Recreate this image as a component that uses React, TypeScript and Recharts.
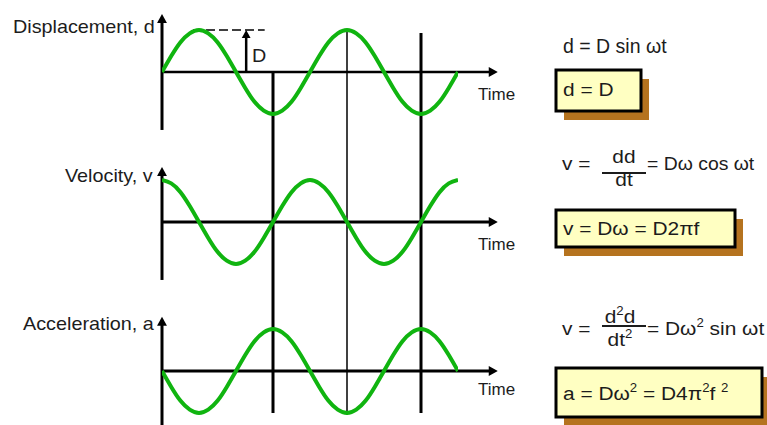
import { LineChart, Line, XAxis, YAxis, ReferenceLine } from 'recharts'

// Time in steps of 1/16 of a period, two full periods
const time = [0, 1, 2, 3, 4, 5, 6, 7, 8, 9, 10, 11, 12, 13, 14, 15, 16,
    17, 18, 19, 20, 21, 22, 23, 24, 25, 26, 27, 28, 29, 30, 31, 32]

// Amplitudes (peak = 1)
const displacement = [0, 0.38, 0.71, 0.92, 1, 0.92, 0.71, 0.38, 0, -0.38, -0.71, -0.92, -1, -0.92, -0.71, -0.38,
    0, 0.38, 0.71, 0.92, 1, 0.92, 0.71, 0.38, 0, -0.38, -0.71, -0.92, -1, -0.92, -0.71, -0.38, 0]
const velocity = [1, 0.92, 0.71, 0.38, 0, -0.38, -0.71, -0.92, -1, -0.92, -0.71, -0.38, 0, 0.38, 0.71, 0.92,
    1, 0.92, 0.71, 0.38, 0, -0.38, -0.71, -0.92, -1, -0.92, -0.71, -0.38, 0, 0.38, 0.71, 0.92, 1]
const acceleration = [0, -0.38, -0.71, -0.92, -1, -0.92, -0.71, -0.38, 0, 0.38, 0.71, 0.92, 1, 0.92, 0.71, 0.38,
    0, -0.38, -0.71, -0.92, -1, -0.92, -0.71, -0.38, 0, 0.38, 0.71, 0.92, 1, 0.92, 0.71, 0.38, 0]

// Marker times: thick, thin, thick
const markers = [12, 20, 28]

const data = time.map((t, i) => ({ t, d: displacement[i], v: velocity[i], a: acceleration[i] }))

const W = 767
const H = 425
const UNIT = 42 // px per unit of amplitude
const ZERO = { d: 72, v: 222, a: 371 } // zero line of each panel
const GREEN = '#10b410'
const INK = '#1c1c1c'
const FONT = '"Liberation Sans", Arial, sans-serif'
const AXIS_END = 36.3

const yDomain = (zero: number) => [(zero - H) / UNIT, zero / UNIT]
// value of a panel expressed on the acceleration axis (for lines crossing panels)
const onA = (panel: 'd' | 'v' | 'a', value: number) => (ZERO.a - ZERO[panel]) / UNIT + value

const panels = [
    { id: 'd', top: 1.38, bottom: -1.38, xw: 2.5 },
    { id: 'v', top: 1.31, bottom: -1.38, xw: 3 },
    { id: 'a', top: 1.29, bottom: -1.6, xw: 3 },
] as const

function ArrowLine(props: any) {
    const { x1, y1, x2, y2, stroke = '#000', strokeWidth = 2, head = 9 } = props
    const ang = Math.atan2(y2 - y1, x2 - x1)
    const c = Math.cos(ang)
    const s = Math.sin(ang)
    const bx = x2 - head * c
    const by = y2 - head * s
    const hw = head * 0.55
    return (
        <g>
            <line x1={x1} y1={y1} x2={bx + c} y2={by + s} stroke={stroke} strokeWidth={strokeWidth} />
            <polygon
                points={`${x2},${y2} ${bx - hw * s},${by + hw * c} ${bx + hw * s},${by - hw * c}`}
                fill={stroke}
            />
        </g>
    )
}

// text stretched a little horizontally, like the source drawing
function T({ x, y, size = 19, anchor = 'start', sx = 1.1, children }: any) {
    return (
        <text
            transform={`translate(${x} ${y}) scale(${sx} 1)`}
            fontSize={size}
            textAnchor={anchor}
            fill={INK}
            fontFamily={FONT}
            style={{ whiteSpace: 'pre' }}
        >
            {children}
        </text>
    )
}

const SUP = 12
const RISE = 8

function FormulaBox({ x, y, w, h }: any) {
    return (
        <g>
            <rect x={x + 8} y={y + 9} width={w} height={h} fill="#b5731f" />
            <rect x={x} y={y} width={w} height={h} fill="#ffffc2" stroke="#000" strokeWidth={3} />
        </g>
    )
}

function Annotations() {
    return (
        <svg width={W} height={H} style={{ position: 'absolute', left: 0, top: 0, pointerEvents: 'none' }}>
            {/* axis titles */}
            <T x={13} y={33} size={18}>Displacement, d</T>
            <T x={65} y={182} size={18}>Velocity, v</T>
            <T x={23} y={330} size={18}>Acceleration, a</T>
            <T x={252} y={62} size={18}>D</T>
            <T x={478} y={100} size={17} sx={1}>Time</T>
            <T x={478} y={250} size={17} sx={1}>Time</T>
            <T x={478} y={395} size={17} sx={1}>Time</T>

            {/* displacement */}
            <T x={563} y={53} size={19.5} sx={1}>d = D sin ωt</T>
            <FormulaBox x={556} y={70} w={85} h={41} />
            <T x={563} y={96}>d = D</T>

            {/* velocity */}
            <T x={562} y={170}>v =</T>
            <T x={624} y={163} anchor="middle">dd</T>
            <line x1={602} x2={646} y1={173} y2={173} stroke={INK} strokeWidth={2} />
            <T x={624} y={186} anchor="middle">dt</T>
            <T x={647} y={170} size={19} sx={1.02}>= Dω cos ωt</T>
            <FormulaBox x={556} y={210} w={179} h={37} />
            <T x={563} y={235}>v = Dω = D2πf</T>

            {/* acceleration */}
            <T x={562} y={335}>v =</T>
            <T x={620} y={323} anchor="middle">
                d<tspan fontSize={SUP} dy={-RISE}>2</tspan><tspan dy={RISE}>d</tspan>
            </T>
            <line x1={602} x2={646} y1={326} y2={326} stroke={INK} strokeWidth={2} />
            <T x={620} y={346} anchor="middle">
                dt<tspan fontSize={SUP} dy={-RISE}>2</tspan>
            </T>
            <T x={647} y={335}>
                = Dω<tspan fontSize={SUP} dy={-RISE}>2</tspan><tspan dy={RISE}> sin ωt</tspan>
            </T>
            <FormulaBox x={556} y={368} w={206} h={49} />
            <T x={563} y={400}>
                a = Dω<tspan fontSize={SUP} dy={-RISE}>2</tspan>
                <tspan dy={RISE}> = D4π</tspan>
                <tspan fontSize={SUP} dy={-RISE}>2</tspan>
                <tspan dy={RISE}>f </tspan>
                <tspan fontSize={SUP} dy={-RISE}>2</tspan>
            </T>
        </svg>
    )
}

export default function App() {
    return (
        <div style={{ position: 'absolute', left: 0, top: 0, width: W, height: H, background: '#fff' }}>
            <LineChart
                width={W}
                height={H}
                data={data}
                margin={{ top: 0, right: W - 458, bottom: 0, left: 162 }}
            >
                <XAxis type="number" dataKey="t" domain={[0, 32]} hide allowDataOverflow />
                {panels.map((p) => (
                    <YAxis
                        key={p.id}
                        yAxisId={p.id}
                        type="number"
                        domain={yDomain(ZERO[p.id])}
                        hide
                        allowDataOverflow
                    />
                ))}

                {/* marker lines running through all three panels */}
                <ReferenceLine
                    yAxisId="a"
                    ifOverflow="visible"
                    segment={[{ x: markers[0], y: onA('d', 0) }, { x: markers[0], y: -1 }]}
                    stroke="#000"
                    strokeWidth={3}
                />
                <ReferenceLine
                    yAxisId="a"
                    ifOverflow="visible"
                    segment={[{ x: markers[1], y: onA('d', 1) }, { x: markers[1], y: -1.05 }]}
                    stroke="#000"
                    strokeWidth={1.5}
                />
                <ReferenceLine
                    yAxisId="a"
                    ifOverflow="visible"
                    segment={[{ x: markers[2], y: onA('d', 0.93) }, { x: markers[2], y: -1 }]}
                    stroke="#000"
                    strokeWidth={3}
                />

                {/* amplitude D marker */}
                <ReferenceLine
                    yAxisId="d"
                    ifOverflow="visible"
                    segment={[{ x: 3.35, y: 1 }, { x: 11.1, y: 1 }]}
                    stroke="#000"
                    strokeWidth={1.5}
                    strokeDasharray="9 4"
                />
                <ReferenceLine
                    yAxisId="d"
                    ifOverflow="visible"
                    segment={[{ x: 9.1, y: 0 }, { x: 9.1, y: 1 }]}
                    stroke="#000"
                    strokeWidth={2.5}
                    shape={(props: any) => <ArrowLine {...props} head={8} />}
                />

                {/* axes of each panel */}
                {panels.map((p) => (
                    <ReferenceLine
                        key={`y-${p.id}`}
                        yAxisId={p.id}
                        ifOverflow="visible"
                        segment={[{ x: 0, y: p.bottom }, { x: 0, y: p.top }]}
                        stroke="#000"
                        strokeWidth={3}
                        shape={(props: any) => <ArrowLine {...props} head={9} />}
                    />
                ))}
                {panels.map((p) => (
                    <ReferenceLine
                        key={`x-${p.id}`}
                        yAxisId={p.id}
                        ifOverflow="visible"
                        segment={[{ x: 0, y: 0 }, { x: AXIS_END, y: 0 }]}
                        stroke="#000"
                        strokeWidth={p.xw}
                        shape={(props: any) => <ArrowLine {...props} head={9} />}
                    />
                ))}

                <Line yAxisId="d" dataKey="d" type="natural" stroke={GREEN} strokeWidth={4} dot={false} isAnimationActive={false} />
                <Line yAxisId="v" dataKey="v" type="natural" stroke={GREEN} strokeWidth={4} dot={false} isAnimationActive={false} />
                <Line yAxisId="a" dataKey="a" type="natural" stroke={GREEN} strokeWidth={4} dot={false} isAnimationActive={false} />
            </LineChart>
            <Annotations />
        </div>
    )
}
